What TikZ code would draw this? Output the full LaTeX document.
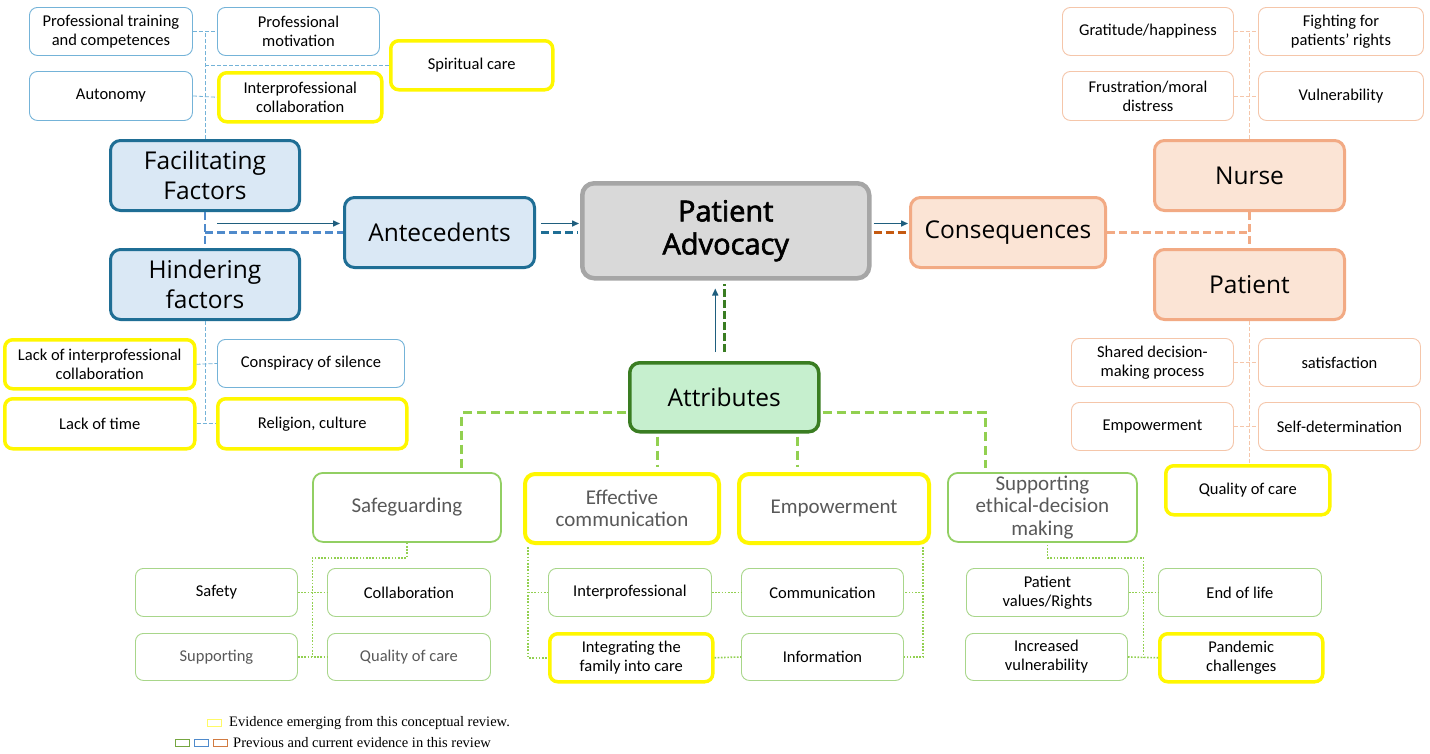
\documentclass[tikz,border=0pt]{standalone}
\usepackage{fontspec}
\setmainfont{Carlito}
\newfontfamily\bigf{Open Sans}
\newfontfamily\bigsb[FakeBold=2.2]{Open Sans}
\newfontfamily\legf{Liberation Serif}
\usetikzlibrary{arrows.meta,calc}
\definecolor{lblue}{HTML}{74B3D8}
\definecolor{dblue}{HTML}{1F6E95}
\definecolor{fblue}{HTML}{DAE8F5}
\definecolor{arrc}{HTML}{1F5E7E}
\definecolor{mblue}{HTML}{4F8ACB}
\definecolor{pgray}{HTML}{D9D9D9}
\definecolor{bgray}{HTML}{A6A6A6}
\definecolor{forange}{HTML}{FBE4D5}
\definecolor{morange}{HTML}{F2AA84}
\definecolor{lorange}{HTML}{F5C6AA}
\definecolor{brorange}{HTML}{C55A11}
\definecolor{fgreen}{HTML}{C6EFCE}
\definecolor{dgreen}{HTML}{3A7D22}
\definecolor{mgreen}{HTML}{92CF63}
\definecolor{lgreen}{HTML}{A8D68A}
\definecolor{cgreen}{HTML}{92D050}
\definecolor{yel}{HTML}{FFF700}
\definecolor{tgray}{HTML}{595959}
\tikzset{
  bx/.style={rounded corners=8pt, align=center, inner sep=1pt, anchor=north west, text=black},
  wh/.style 2 args={minimum width=#1, minimum height=#2},
  smf/.style={bx, font=\fontsize{16.5}{19}\selectfont},
  bsm/.style={smf, draw=lblue, line width=0.9pt},
  osm/.style={smf, draw=lorange, line width=0.9pt},
  gsm/.style={smf, draw=lgreen, line width=0.9pt},
  ysm/.style={smf, draw=yel, line width=3.5pt},
  bigb/.style={bx, rounded corners=10pt, font=\bigf\fontsize{24.5}{30}\selectfont},
  bbig/.style={bigb, draw=dblue, fill=fblue, line width=3pt},
  obig/.style={bigb, draw=morange, fill=forange, line width=3pt},
  pabox/.style={bx, rounded corners=12pt, font=\bigsb\fontsize{29}{33}\selectfont, draw=bgray, fill=pgray, line width=4.5pt},
  attbox/.style={bigb, draw=dgreen, fill=fgreen, line width=3.5pt},
  gmid/.style={bx, rounded corners=10pt, inner sep=0pt, font=\fontsize{21}{22.5}\selectfont, text=tgray, draw=mgreen, line width=1.8pt},
  ymid/.style={gmid, draw=yel, line width=4pt},
  arr/.style={draw=arrc, line width=1.5pt, -{Triangle[length=7pt,width=6pt]}},
  tdb/.style={draw=lblue, line width=0.8pt, dash pattern=on 4pt off 2pt},
  tdo/.style={draw=lorange, line width=0.8pt, dash pattern=on 4pt off 2pt},
  thickdb/.style={draw=mblue, line width=2.5pt, dash pattern=on 8pt off 4pt},
  antdash/.style={draw=dblue, line width=2.5pt, dash pattern=on 8pt off 4pt},
  consdash/.style={draw=brorange, line width=2.5pt, dash pattern=on 8pt off 4pt},
  odash/.style={draw=morange, line width=2.5pt, dash pattern=on 8pt off 4pt},
  attdash/.style={draw=dgreen, line width=2.5pt, dash pattern=on 8pt off 3pt},
  gd/.style={draw=cgreen, line width=3pt, dash pattern=on 9pt off 5pt},
  gdot/.style={draw=cgreen, line width=1.6pt, dash pattern=on 1.6pt off 1.6pt},
  legbox/.style={anchor=north west, inner sep=0pt, minimum width=14pt, minimum height=7pt, line width=0.8pt},
  legtxt/.style={anchor=west, inner sep=0pt, font=\legf\fontsize{14.5}{16}\selectfont}
}
\begin{document}
\begin{tikzpicture}[x=1pt,y=-1pt]
\useasboundingbox[fill=white] (0,0) rectangle (1430,753);
% ---------- Antecedents side ----------
\node[bsm, wh={163}{48}] (ptc) at (29,7) {Professional training\\and competences};
\node[bsm, wh={162}{48}] (pm) at (217,7) {Professional\\motivation};
\node[ysm, wh={162}{49}] (sc) at (389,39) {Spiritual care};
\node[bsm, wh={163}{49}] (aut) at (29,71) {Autonomy};
\node[ysm, wh={163}{49}] (ipc) at (217,71) {Interprofessional\\collaboration};
\node[bbig, wh={189}{70}] (fac) at (109,139) {Facilitating\\Factors};
\node[bbig, wh={189}{70}] (hin) at (109,248) {Hindering\\factors};
\node[bbig, wh={190}{70}] (ant) at (343,196) {Antecedents};
\node[ysm, wh={190}{49}] (lic) at (3,338) {Lack of interprofessional\\collaboration};
\node[bsm, wh={187}{48}] (cs) at (217,339) {Conspiracy of silence};
\node[ysm, wh={190}{50}] (lt) at (3,397) {Lack of time};
\node[ysm, wh={189}{50}] (rc) at (216,397) {Religion, culture};
% ---------- centre ----------
\node[pabox, wh={287}{95}] (pa) at (580,181) {Patient\\Advocacy};
% ---------- Consequences side ----------
\node[obig, wh={195}{70}] (cons) at (909,196) {Consequences};
\node[obig, wh={190}{70}] (nur) at (1153,139) {Nurse};
\node[obig, wh={190}{70}] (pat) at (1153,248) {Patient};
\node[osm, wh={171}{48}] (gh) at (1062,7) {Gratitude/happiness};
\node[osm, wh={165}{48}] (fpr) at (1258,7) {Fighting for\\patients' rights};
\node[osm, wh={171}{49}] (fmd) at (1062,71) {Frustration/moral\\distress};
\node[osm, wh={165}{49}] (vul) at (1258,71) {Vulnerability};
\node[osm, wh={162}{48}] (sdm) at (1071,338) {Shared decision-\\making process};
\node[osm, wh={162}{48}] (sat) at (1258,338) {satisfaction};
\node[osm, wh={162}{48}] (emo) at (1071,402) {Empowerment};
\node[osm, wh={162}{48}] (sdt) at (1258,402) {Self-determination};
\node[ysm, wh={164}{49}] (qcp) at (1164,464) {Quality of care};
% ---------- Attributes ----------
\node[attbox, wh={189}{69}] (att) at (628,361) {Attributes};
\node[gmid, wh={188}{69}] (sg) at (312,472) {Safeguarding};
\node[ymid, wh={194}{69}] (ec) at (523,472) {Effective\\communication};
\node[ymid, wh={190}{69}] (emp) at (737,472) {Empowerment};
\node[gmid, wh={189}{69}] (sed) at (947,472) {Supporting\\ethical-decision\\making};
\node[gsm, wh={162}{48}] (saf) at (135,568) {Safety};
\node[gsm, wh={163}{48}] (col) at (327,568) {Collaboration};
\node[gsm, wh={162}{47}, text=tgray] (sup) at (135,633) {Supporting};
\node[gsm, wh={163}{47}, text=tgray] (qoc) at (327,633) {Quality of care};
\node[gsm, wh={163}{48}] (ip) at (548,568) {Interprofessional};
\node[gsm, wh={162}{48}] (com) at (741,568) {Communication};
\node[ysm, wh={163}{48}] (itf) at (548,632) {Integrating the\\family into care};
\node[gsm, wh={162}{47}] (inf) at (741,633) {Information};
\node[gsm, wh={162}{48}] (pv) at (966,568) {Patient\\values/Rights};
\node[gsm, wh={163}{48}] (eol) at (1158,568) {End of life};
\node[gsm, wh={162}{47}] (iv) at (965,633) {Increased\\vulnerability};
\node[ysm, wh={163}{48}] (pc) at (1158,632) {Pandemic\\challenges};
% ---------- connectors: antecedents ----------
\draw[tdb] (fac.north) -- (fac.north |- ptc.east);
\draw[tdb] (ptc.east) -- (pm.west);
\draw[tdb] (aut.east) -- (ipc.west);
\draw[tdb] (fac.north |- sc.west) -- (sc.west);
\draw[tdb] (hin.south) -- (hin.south |- lt.east);
\draw[tdb] (lic.east) -- (cs.west);
\draw[tdb] (lt.east) -- (rc.west);
\draw[thickdb] (fac.south) -- (hin.north);
\draw[thickdb] (fac.south |- ant.west) -- (ant.west);
\draw[arr] ($(fac.south |- ant.west)+(12,-9)$) -- ($(ant.west)+(-3,-9)$);
\coordinate (a1) at ($(ant.east)+(5,-9)$);
\coordinate (a2) at ($(ant.east)+(5,0)$);
\draw[arr] (a1) -- ($(a1 -| pa.west)+(-1,0)$);
\draw[antdash] (a2) -- ($(a2 -| pa.west)+(-2,0)$);
% ---------- connectors: consequences ----------
\coordinate (c1) at ($(cons.west)+(0,-9)$);
\draw[arr] ($(c1 -| pa.east)+(2,0)$) -- ($(c1)+(-1,0)$);
\draw[consdash] ($(cons.west -| pa.east)+(2,0)$) -- (cons.west);
\draw[odash] (cons.east) -- (cons.east -| nur.south);
\draw[odash] (nur.south) -- (pat.north);
\draw[tdo] (nur.north) -- (nur.north |- gh.east);
\draw[tdo] (gh.east) -- (fpr.west);
\draw[tdo] (fmd.east) -- (vul.west);
\draw[tdo] (pat.south) -- (pat.south |- qcp.north);
\draw[tdo] (sdm.east) -- (sat.west);
\draw[tdo] (emo.east) -- (sdt.west);
% ---------- connectors: attributes ----------
\coordinate (t1) at ($(att.north)+(-9,-9)$);
\coordinate (t2) at ($(att.north)+(0,-9)$);
\draw[arr] (t1) -- ($(t1 |- pa.south)+(0,8)$);
\draw[attdash] (t2) -- ($(t2 |- pa.south)+(0,3)$);
\draw[gd] ($(att.west)+(-2,15.5)$) -| ($(sg.north)+(55,-4)$);
\draw[gd] ($(att.east)+(2,15.5)$) -| ($(sed.north)+(-57,-4)$);
\coordinate (b1) at ($(att.south)+(-66.5,3)$);
\coordinate (b2) at ($(att.south)+(73.5,3)$);
\draw[gd] (b1) -- ($(b1 |- ec.north)+(0,-5)$);
\draw[gd] (b2) -- ($(b2 |- emp.north)+(0,-5)$);
% safeguarding tree
\coordinate (m1) at ($(saf.east)!0.5!(col.west)$);
\draw[gdot] (sg.south) -- ++(0,15) -| (m1 |- sup.east);
\draw[gdot] (saf.east) -- (col.west);
\draw[gdot] (sup.east) -- (qoc.west);
% effective communication / empowerment tree
\coordinate (e1) at ($(ec.south west)+(5,2)$);
\coordinate (e2) at ($(emp.south east)+(-8,2)$);
\draw[gdot] (e1) |- (itf.west);
\draw[gdot] (e1 |- ip.west) -- (ip.west);
\draw[gdot] (e2) |- (inf.east);
\draw[gdot] (e2 |- com.east) -- (com.east);
\draw[gdot] (ip.east) -- (com.west);
\draw[gdot] (itf.east) -- (inf.west);
% supporting ethical decision tree
\coordinate (m3) at ($(pv.east)!0.5!(eol.west)$);
\draw[gdot] ($(sed.south)+(5,2)$) -- ++(0,13) -| (m3 |- pc.west);
\draw[gdot] (pv.east) -- (eol.west);
\draw[gdot] (iv.east) -- (pc.west);
% ---------- legend ----------
\node[legbox, draw=yel!60] (ly) at (207,719) {};
\node[legtxt] (l1) at (229,723) {Evidence emerging from this conceptual review.};
\node[legbox, draw=cgreen!80!black] (lg) at (175,739) {};
\node[legbox, draw=mblue] (lb) at (194,739) {};
\node[legbox, draw=brorange!80] (lo) at (213,739) {};
\node[legtxt] (l2) at (233,743) {Previous and current evidence in this review};
\end{tikzpicture}
\end{document}
